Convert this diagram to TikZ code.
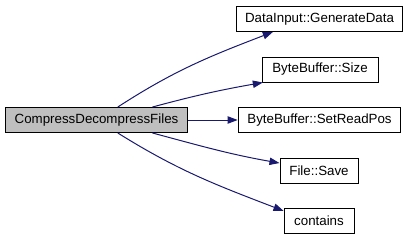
\documentclass[tikz,border=0pt]{standalone}
\usepackage{fontspec}
\setmainfont{Liberation Sans}
\usetikzlibrary{arrows.meta}
\definecolor{midnightblue}{RGB}{25,25,112}
\definecolor{callergray}{RGB}{191,191,191}

\begin{document}
\begin{tikzpicture}[
    x=0.75pt, y=-0.75pt,
    fn/.style={rectangle, draw=black, line width=0.75pt, fill=white, inner sep=0pt, minimum height=18.75pt, font=\fontsize{10pt}{12pt}\selectfont},
    caller/.style={fn, fill=callergray},
    call/.style={draw=midnightblue, line width=0.75pt, -{Triangle[length=7.5pt, width=5.5pt]}}
]
    \useasboundingbox (0,0) rectangle (408,240);

    % Caller
    \node[caller, minimum width=137pt] (main) at (96.5,120) {CompressDecompressFiles};

    % Callees
    \node[fn, minimum width=124pt] (gen) at (319.5,19) {DataInput::GenerateData};
    \node[fn, minimum width=87pt] (size) at (320,69.5) {ByteBuffer::Size};
    \node[fn, minimum width=122pt] (readpos) at (319.5,120) {ByteBuffer::SetReadPos};
    \node[fn, minimum width=58.5pt] (save) at (319,170.5) {File::Save};
    \node[fn, minimum width=52.5pt] (contains) at (319,220.5) {contains};

    % Calls
    \draw[call] ([xshift=16pt]main.north) to[out=33, in=201] ([xshift=-35pt]gen.south);
    \draw[call] ([xshift=42pt]main.north) to[out=15, in=190] ([xshift=1pt]size.south west);
    \draw[call] (main) -- (readpos);
    \draw[call] ([xshift=42pt]main.south) to[out=-15, in=170] ([yshift=5.6pt]save.west);
    \draw[call] ([xshift=16pt]main.south) to[out=-32, in=159] ([yshift=-2.5pt]contains.north west);
\end{tikzpicture}
\end{document}
